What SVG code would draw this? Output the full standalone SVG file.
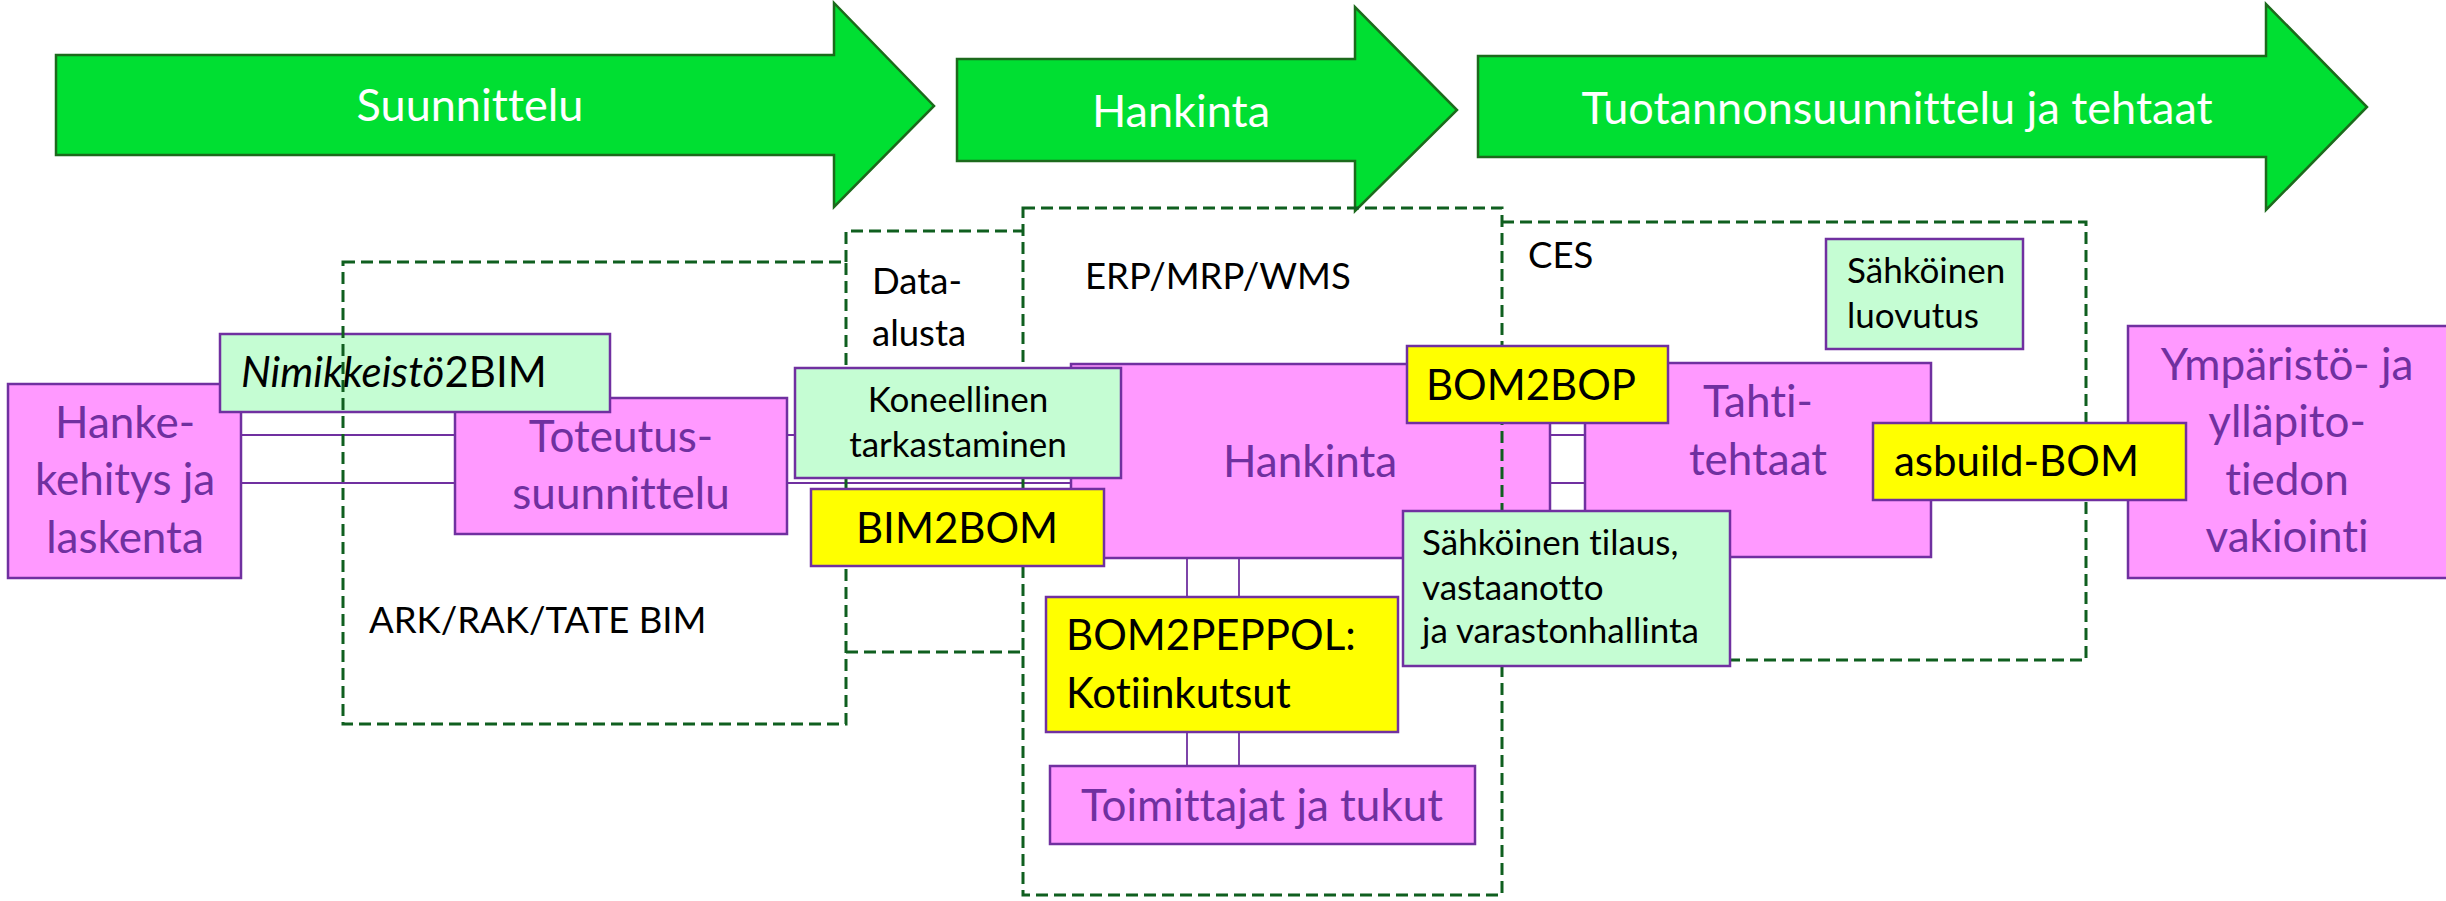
<svg xmlns="http://www.w3.org/2000/svg" width="2446" height="901" viewBox="0 0 2446 901">
  <style>
    text { font-family: Lato, "Liberation Sans", sans-serif; font-variant-ligatures: none; }
    .phase { fill: #00DF32; stroke: #1C6A1C; stroke-width: 2.5; stroke-linejoin: miter; }
    .phase-label { fill: #FFFFFF; font-size: 45px; text-anchor: middle; }
    .pink { fill: #FF99FF; stroke: #7030A0; stroke-width: 2.5; }
    .mint { fill: #C5FDD3; stroke: #7030A0; stroke-width: 2.5; }
    .yellow { fill: #FFFF00; stroke: #7030A0; stroke-width: 2.5; }
    .zone { fill: none; stroke: #0F5F1F; stroke-width: 3; stroke-dasharray: 12 6; }
    .link { fill: none; stroke: #7030A0; stroke-width: 1.8; }
    .ptext { fill: #7030A0; font-size: 44px; }
    .btext { fill: #000000; font-size: 42px; }
    .small { fill: #000000; font-size: 35px; }
    .zlabel { fill: #000000; font-size: 36.5px; }
    .mid { text-anchor: middle; }
  </style>

  <!-- Phase arrows -->
  <g id="phase-suunnittelu">
    <polygon class="phase" points="56,55 834,55 834,3 934,106 834,207 834,155 56,155"/>
    <text class="phase-label" x="470" y="121">Suunnittelu</text>
  </g>
  <g id="phase-hankinta">
    <polygon class="phase" points="957,59 1355,59 1355,7 1457,110 1355,211 1355,161 957,161"/>
    <text class="phase-label" x="1181" y="127">Hankinta</text>
  </g>
  <g id="phase-tuotanto">
    <polygon class="phase" points="1478,56 2266,56 2266,4 2367,107 2266,210 2266,157 1478,157"/>
    <text class="phase-label" x="1897" y="124">Tuotannonsuunnittelu ja tehtaat</text>
  </g>

  <!-- Connectors between the process boxes -->
  <g id="connectors">
    <path class="link" d="M241,435 H1585"/>
    <path class="link" d="M241,483 H1585"/>
    <path class="link" d="M1187,558 V766"/>
    <path class="link" d="M1239,558 V766"/>
  </g>

  <!-- Process boxes -->
  <g id="hankekehitys">
    <rect class="pink" x="8" y="384" width="233" height="194"/>
    <text class="ptext mid" x="125" y="438">Hanke-</text>
    <text class="ptext mid" x="125" y="495">kehitys ja</text>
    <text class="ptext mid" x="125" y="553">laskenta</text>
  </g>
  <g id="toteutussuunnittelu">
    <rect class="pink" x="455" y="398" width="332" height="136"/>
    <text class="ptext mid" x="621" y="452">Toteutus-</text>
    <text class="ptext mid" x="621" y="509">suunnittelu</text>
  </g>
  <g id="hankinta">
    <rect class="pink" x="1071" y="364" width="479" height="194"/>
    <text class="ptext mid" x="1310" y="477" font-size="43.5">Hankinta</text>
  </g>
  <g id="tahtitehtaat">
    <rect class="pink" x="1585" y="363" width="346" height="194"/>
    <text class="ptext mid" x="1758" y="417">Tahti-</text>
    <text class="ptext mid" x="1758" y="475">tehtaat</text>
  </g>
  <g id="ymparisto">
    <rect class="pink" x="2128" y="326" width="330" height="252"/>
    <text class="ptext mid" x="2287" y="380">Ympäristö- ja</text>
    <text class="ptext mid" x="2287" y="437">ylläpito-</text>
    <text class="ptext mid" x="2287" y="495">tiedon</text>
    <text class="ptext mid" x="2287" y="552">vakiointi</text>
  </g>
  <g id="toimittajat">
    <rect class="pink" x="1050" y="766" width="425" height="78"/>
    <text class="ptext mid" x="1262" y="821" font-size="45">Toimittajat ja tukut</text>
  </g>

  <g id="nimikkeisto2bim">
    <rect class="mint" x="220" y="334" width="390" height="78"/>
    <text class="btext" x="241" y="387" font-size="45"><tspan font-style="italic">Nimikkeistö</tspan>2BIM</text>
  </g>

  <!-- System zones (dashed outlines) -->
  <g id="zones">
    <g id="zone-ark">
      <rect class="zone" x="343" y="262" width="503" height="462"/>
      <text class="zlabel" x="369" y="633" font-size="36">ARK/RAK/TATE BIM</text>
    </g>
    <g id="zone-data">
      <path class="zone" d="M846,262 V231 H1023 M846,652 H1023"/>
      <text class="zlabel" x="872" y="294" font-size="38">Data-</text>
      <text class="zlabel" x="872" y="346" font-size="38">alusta</text>
    </g>
    <g id="zone-erp">
      <rect class="zone" x="1023" y="208" width="479" height="687"/>
      <text class="zlabel" x="1085" y="289">ERP/MRP/WMS</text>
    </g>
    <g id="zone-ces">
      <path class="zone" d="M1502,222 H2086 V660 H1502"/>
      <text class="zlabel" x="1528" y="268" font-size="34">CES</text>
    </g>
  </g>

  <!-- Data exchange boxes -->
  <g id="koneellinen">
    <rect class="mint" x="795" y="368" width="326" height="110"/>
    <text class="small mid" x="958" y="412">Koneellinen</text>
    <text class="small mid" x="958" y="457">tarkastaminen</text>
  </g>
  <g id="bim2bom">
    <rect class="yellow" x="811" y="489" width="293" height="77"/>
    <text class="btext mid" x="957" y="543" font-size="41">BIM2BOM</text>
  </g>
  <g id="bom2bop">
    <rect class="yellow" x="1407" y="346" width="261" height="77"/>
    <text class="btext mid" x="1531" y="400">BOM2BOP</text>
  </g>
  <g id="sahkoinen-luovutus">
    <rect class="mint" x="1826" y="239" width="197" height="110"/>
    <text class="small" x="1847" y="283">Sähköinen</text>
    <text class="small" x="1847" y="328">luovutus</text>
  </g>
  <g id="asbuild-bom">
    <rect class="yellow" x="1873" y="423" width="313" height="77"/>
    <text class="btext" x="1894" y="476" font-size="43">asbuild-BOM</text>
  </g>
  <g id="sahkoinen-tilaus">
    <rect class="mint" x="1403" y="511" width="327" height="155"/>
    <text class="small" x="1422" y="555">Sähköinen tilaus,</text>
    <text class="small" x="1422" y="600">vastaanotto</text>
    <text class="small" x="1422" y="643">ja varastonhallinta</text>
  </g>
  <g id="bom2peppol">
    <rect class="yellow" x="1046" y="597" width="352" height="135"/>
    <text class="btext" x="1066" y="650">BOM2PEPPOL:</text>
    <text class="btext" x="1066" y="708" font-size="45">Kotiinkutsut</text>
  </g>
</svg>
